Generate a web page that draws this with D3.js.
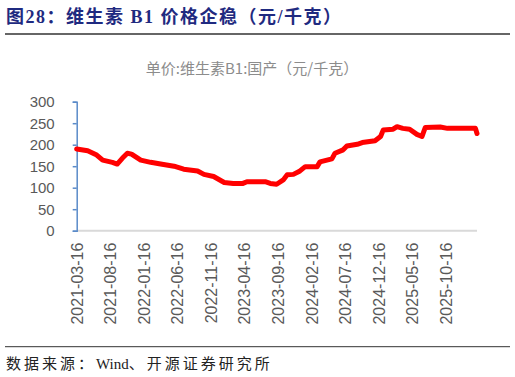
<!DOCTYPE html>
<html>
<head>
<meta charset="utf-8">
<script src="https://cdn.jsdelivr.net/npm/d3@7"></script>
<style>
  body { margin: 0; background: #fff; }
  svg { display: block; }
</style>
</head>
<body>
<svg id="chart" width="515" height="377"></svg>
<script>
// values
let dates = [
  "2021-03-16", "2021-05-05", "2021-06-15", "2021-07-12", "2021-08-25", "2021-09-16",
  "2021-10-10", "2021-11-01", "2021-11-20", "2022-01-01", "2022-02-15", "2022-04-01",
  "2022-06-01", "2022-07-15", "2022-09-16", "2022-10-15", "2022-11-28", "2023-01-15",
  "2023-02-25", "2023-04-10", "2023-04-28", "2023-07-20", "2023-08-12", "2023-09-10",
  "2023-10-10", "2023-10-28", "2023-11-25", "2023-12-25", "2024-01-18", "2024-03-12",
  "2024-03-25", "2024-05-18", "2024-06-01", "2024-07-08", "2024-07-25", "2024-09-10",
  "2024-10-03", "2024-11-30", "2024-12-25", "2025-01-06", "2025-02-20", "2025-03-10",
  "2025-04-05", "2025-05-06", "2025-06-08", "2025-07-01", "2025-07-16", "2025-09-22",
  "2025-10-25", "2026-03-01", "2026-03-08"
]
let prices = [
  190, 186, 176, 164, 159, 155,
  169, 180, 178, 164, 159, 155,
  150, 143, 139, 131, 126, 112,
  110, 110, 114, 114, 110, 108,
  118, 130, 131, 139, 149, 149,
  160, 167, 180, 188, 197, 201,
  205, 209, 219, 234, 236, 242,
  238, 236, 224, 219, 240, 241,
  238, 238, 226
]
let tick_labels = [
  "2021-03-16", "2021-08-16", "2022-01-16", "2022-06-16", "2022-11-16", "2023-04-16",
  "2023-09-16", "2024-02-16", "2024-07-16", "2024-12-16", "2025-05-16", "2025-10-16"
]
let y_ticks = [0, 50, 100, 150, 200, 250, 300]

let title = "图28：维生素 B1 价格企稳（元/千克）"
let subtitle = "单价:维生素B1:国产（元/千克）"
// source line in pieces so only the CJK parts get spaced out
let source_parts = ["数据来源：", "Wind", "、开源证券研究所"]

let parse = d3.timeParse("%Y-%m-%d")
let data = dates.map((d, i) => ({date: parse(d), price: prices[i]}))

let svg = d3.select("#chart")
let margin = {top: 101.7, bottom: 230.7, left: 76.7, right: 477}

let x = d3.scaleTime()
  .domain([parse("2021-03-16"), parse("2026-03-08")])
  .range([margin.left, margin.right])
let y = d3.scaleLinear()
  .domain([0, 300])
  .range([margin.bottom, margin.top])

// title block
svg.append("text")
  .attr("x", 6).attr("y", 23)
  .attr("font-family", "'Liberation Serif', 'Noto Sans CJK SC', serif")
  .attr("font-weight", "bold")
  .attr("font-size", 18)
  .attr("letter-spacing", 1.5)
  .attr("fill", "#1f2a80")
  .text(title)

svg.append("line")
  .attr("x1", 5).attr("x2", 510).attr("y1", 34).attr("y2", 34)
  .attr("stroke", "#333").attr("stroke-width", 1.5)

svg.append("text")
  .attr("x", 252).attr("y", 74)
  .attr("text-anchor", "middle")
  .attr("font-family", "'Noto Sans CJK SC', sans-serif")
  .attr("font-size", 15)
  .attr("fill", "#8c8c8c")
  .text(subtitle)

// x axis baseline
svg.append("line")
  .attr("x1", margin.left).attr("x2", margin.right)
  .attr("y1", y(0)).attr("y2", y(0))
  .attr("stroke", "#d9d9d9").attr("stroke-width", 2)

// y axis
let y_axis = d3.axisLeft(y).tickValues(y_ticks).tickSize(4).tickPadding(18)
let gy = svg.append("g")
  .attr("transform", `translate(${margin.left},0)`)
  .call(y_axis)
gy.select(".domain").attr("stroke", "#5b8bc9").attr("stroke-width", 1.5)
gy.selectAll(".tick line").attr("stroke", "#5b8bc9").attr("stroke-width", 1.5)
gy.selectAll(".tick text")
  .attr("font-family", "'Liberation Sans', Arial, sans-serif")
  .attr("font-size", 15)
  .attr("fill", "#595959")

// x axis labels
let x_axis = d3.axisBottom(x)
  .tickValues(tick_labels.map(parse))
  .tickFormat(d3.timeFormat("%Y-%m-%d"))
  .tickSize(0)
let gx = svg.append("g")
  .attr("transform", `translate(0,${y(0)})`)
  .call(x_axis)
gx.select(".domain").remove()
gx.selectAll(".tick text")
  .attr("font-family", "'Liberation Sans', Arial, sans-serif")
  .attr("font-size", 16)
  .attr("fill", "#595959")
  .attr("text-anchor", "end")
  .attr("transform", "rotate(-90)")
  .attr("x", -12).attr("y", 0).attr("dy", "0.35em")

// price line
let line = d3.line()
  .x(d => x(d.date))
  .y(d => y(d.price))
svg.append("path")
  .datum(data)
  .attr("d", line)
  .attr("fill", "none")
  .attr("stroke", "#ff0000")
  .attr("stroke-width", 5)
  .attr("stroke-linejoin", "round")
  .attr("stroke-linecap", "round")

// footer
svg.append("line")
  .attr("x1", 5).attr("x2", 510).attr("y1", 346.7).attr("y2", 346.7)
  .attr("stroke", "#333").attr("stroke-width", 1)

svg.append("text")
  .attr("x", 6).attr("y", 369)
  .attr("font-family", "'Liberation Serif', 'Noto Sans CJK SC', serif")
  .attr("font-size", 15)
  .attr("fill", "#222")
  .selectAll("tspan")
  .data(source_parts).enter()
  .append("tspan")
  .attr("letter-spacing", (d, i) => i == 1 ? 0 : 3)
  .text(d => d)
</script>
</body>
</html>
